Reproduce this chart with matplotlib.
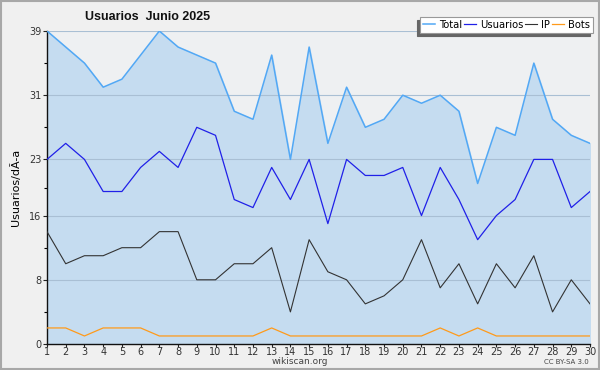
import matplotlib as mpl
import matplotlib.pyplot as plt
import numpy as np

mpl.rcParams.update({
    "font.family": "DejaVu Sans",
    "font.size": 7,
})

# --- Data ---
days = list(range(1, 31))
total = [39, 37, 35, 32, 33, 36, 39, 37, 36, 35, 29, 28, 36, 23, 37,
         25, 32, 27, 28, 31, 30, 31, 29, 20, 27, 26, 35, 28, 26, 25]
usuarios = [23, 25, 23, 19, 19, 22, 24, 22, 27, 26, 18, 17, 22, 18, 23,
            15, 23, 21, 21, 22, 16, 22, 18, 13, 16, 18, 23, 23, 17, 19]
ip = [14, 10, 11, 11, 12, 12, 14, 14, 8, 8, 10, 10, 12, 4, 13,
      9, 8, 5, 6, 8, 13, 7, 10, 5, 10, 7, 11, 4, 8, 5]
bots = [2, 2, 1, 2, 2, 2, 1, 1, 1, 1, 1, 1, 2, 1, 1,
        1, 1, 1, 1, 1, 1, 2, 1, 2, 1, 1, 1, 1, 1, 1]
yticks = [0, 8, 16, 23, 31, 39]
yminor = [4, 12, 19.5, 27, 35]

fig = plt.figure(figsize=(6, 3.7), dpi=100, facecolor="#f0f0f0")
# outer frame
fig.patches.append(mpl.patches.Rectangle((0.002, 0.003), 0.996, 0.994,
                   transform=fig.transFigure, fill=False,
                   edgecolor="#a8a8a8", linewidth=1.5))

ax = fig.add_axes([47 / 600, 26 / 370, 543 / 600, 313 / 370])
ax.set_facecolor("#eef0f2")

ax.fill_between(days, total, 0, color="#c5dcf0", zorder=1)
ax.plot(days, total, color="#52a8f5", lw=1.1, label="Total", zorder=3)
ax.plot(days, usuarios, color="#2020e8", lw=0.9, label="Usuarios", zorder=3)
ax.plot(days, ip, color="#333333", lw=0.8, label="IP", zorder=3)
ax.plot(days, bots, color="#ff9a1a", lw=0.9, label="Bots", zorder=3)

for v in yticks[1:]:
    ax.axhline(v, color="#a9bfd4", lw=0.8, zorder=2)

ax.set_xlim(1, 30)
ax.set_ylim(0, 39)
ax.set_xticks(days)
ax.set_yticks(yticks)
ax.set_yticks(yminor, minor=True)
ax.tick_params(axis="both", colors="#222222", labelcolor="#333333",
               labelsize=7, length=3, width=0.8, pad=1)
ax.tick_params(axis="y", which="minor", length=2, width=0.8)
ax.tick_params(axis="x", length=2, pad=0.5)
for s in ["top", "right"]:
    ax.spines[s].set_visible(False)
for s in ["left", "bottom"]:
    ax.spines[s].set_linewidth(1.0)
    ax.spines[s].set_color("#111111")
ax.set_ylabel("Usuarios/dÃ-a", fontsize=8, labelpad=6)

fig.text(85 / 600, 1 - 17 / 370, "Usuarios  Junio 2025", fontsize=9,
         family="Liberation Sans", fontweight="bold", va="center",
         ha="left", color="#111111")

leg = fig.legend(loc="upper right", bbox_to_anchor=(593 / 600, 1 - 16.5 / 370),
                 ncol=4, fontsize=7.2, frameon=True, fancybox=False,
                 handlelength=1.2, handletextpad=0.4, columnspacing=0.2,
                 borderpad=0.3, borderaxespad=0,
                 shadow={"ox": -2.2, "oy": -2.2, "color": "#666666", "alpha": 1})
leg.get_frame().set_edgecolor("#999999")
leg.get_frame().set_linewidth(0.8)

fig.text(0.5, 1 - 362 / 370, "wikiscan.org", fontsize=6.5, ha="center",
         va="center", color="#444444")
fig.text(589 / 600, 1 - 362 / 370, "CC BY-SA 3.0", fontsize=5, ha="right",
         va="center", color="#444444")

fig.savefig("out.png", dpi=100, facecolor=fig.get_facecolor())
